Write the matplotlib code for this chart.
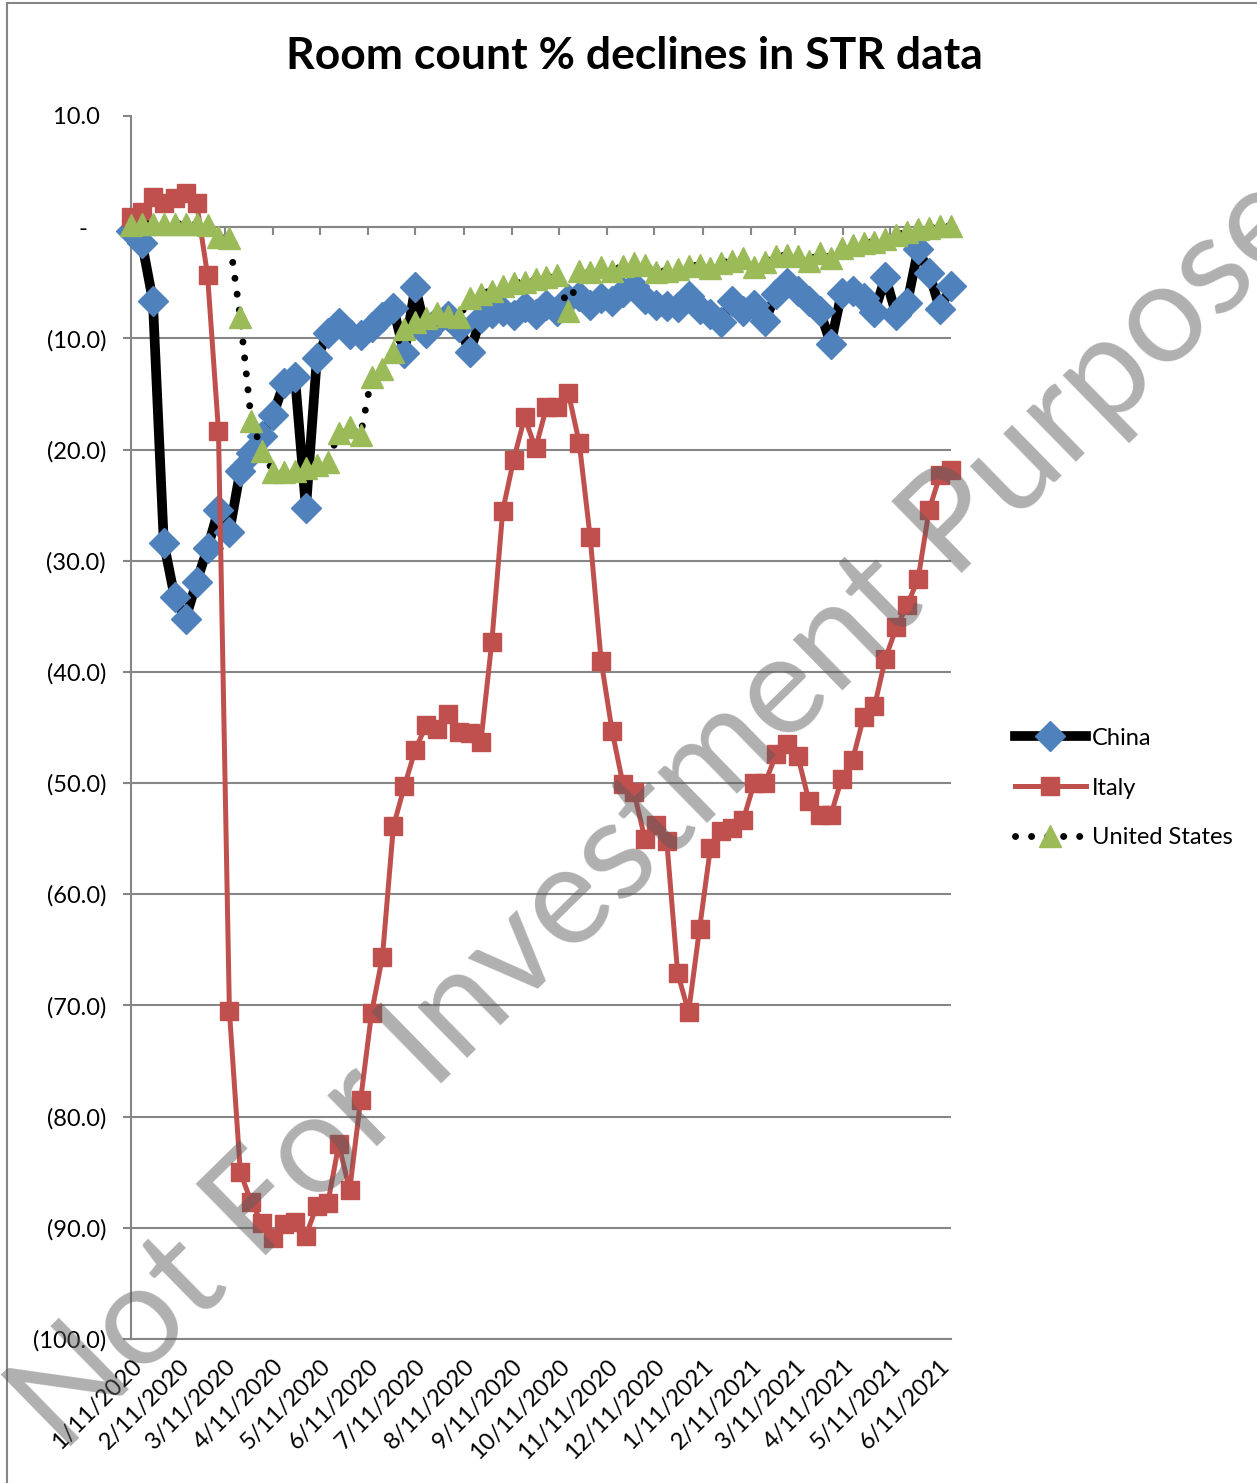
import matplotlib
matplotlib.use("Agg")
import matplotlib.pyplot as plt
import pandas as pd
from matplotlib.patches import Rectangle
from matplotlib.ticker import FuncFormatter

plt.rcParams['font.family'] = ['Lato', 'DejaVu Sans']

# weekly STR data, first week ending 1/11/2020
first_week = "2020-01-11"
n_weeks = 76

china = [-0.3, -1.4, -6.6, -28.4, -33.3, -35.2, -31.9, -28.9, -25.4, -27.4,
         -21.9, -20.3, -18.8, -16.9, -14.0, -13.5, -25.3, -11.8, -9.5, -8.6,
         -9.6, -9.7, -9.0, -8.1, -7.3, -11.3, -5.4, -9.5, -8.4, -8.0,
         -9.0, -11.2, -8.2, -7.7, -7.5, -7.9, -7.2, -7.8, -7.0, -7.5,
         -6.5, -6.2, -7.0, -6.4, -6.6, -5.8, -5.3, -6.5, -7.0, -7.1,
         -7.2, -6.2, -7.4, -7.8, -8.5, -6.6, -7.5, -7.0, -8.4, -6.0,
         -5.0, -5.7, -6.6, -7.5, -10.5, -5.9, -5.7, -6.4, -7.6, -4.5,
         -7.9, -6.8, -2.0, -4.1, -7.4, -5.3]

italy = [0.9, 1.4, 2.7, 2.2, 2.6, 3.1, 2.2, -4.3, -18.3, -70.5,
         -85.0, -87.7, -89.6, -90.9, -89.7, -89.5, -90.7, -88.0, -87.8, -82.5,
         -86.6, -78.5, -70.7, -65.6, -53.9, -50.3, -47.0, -44.8, -45.1, -43.8,
         -45.4, -45.5, -46.3, -37.3, -25.5, -20.9, -17.1, -19.9, -16.2, -16.2,
         -14.9, -19.4, -27.9, -39.0, -45.3, -50.1, -50.8, -55.0, -53.8, -55.2,
         -67.1, -70.6, -63.1, -55.8, -54.3, -54.0, -53.3, -50.0, -50.0, -47.4,
         -46.5, -47.6, -51.6, -52.9, -52.9, -49.6, -47.9, -44.1, -43.1, -38.8,
         -36.0, -34.0, -31.6, -25.4, -22.3, -21.8]

united_states = [0.2, 0.3, 0.3, 0.3, 0.3, 0.3, 0.3, 0.2, -0.9, -1.0,
                 -8.1, -17.4, -20.1, -22.0, -22.0, -21.9, -21.7, -21.4, -21.1, -18.5,
                 -18.0, -18.7, -13.5, -12.8, -11.2, -9.2, -8.5, -8.2, -7.7, -8.0,
                 -8.1, -6.4, -6.0, -5.7, -5.3, -5.0, -4.9, -4.7, -4.5, -4.3,
                 -7.5, -3.9, -4.0, -3.6, -3.9, -3.5, -3.2, -3.4, -4.0, -3.9,
                 -3.8, -3.5, -3.4, -3.7, -3.2, -3.0, -2.8, -3.6, -3.1, -2.6,
                 -2.5, -2.6, -3.0, -2.3, -2.8, -1.9, -1.6, -1.4, -1.3, -1.1,
                 -0.7, -0.4, -0.2, -0.1, 0.1, 0.1]

y_ticks = list(range(-100, 11, 10))
tick_start = "2020-01-11"
tick_end = "2021-06-11"

weeks = pd.date_range(first_week, periods=n_weeks, freq="7D")
month_ticks = pd.date_range(tick_start, tick_end, freq=pd.DateOffset(months=1))

W, H = 1257, 1483
grey = '#868686'

fig = plt.figure(figsize=(W / 100, H / 100), dpi=100)
ax = fig.add_axes([131 / W, 1 - 1339 / H, (951 - 131) / W, (1339 - 116) / H])

# horizontal axis line sits at zero; do this first, it resets the ticks
ax.spines['top'].set_position(('data', 0))
for side in ['top', 'bottom', 'left']:
    ax.spines[side].set_color(grey)
    ax.spines[side].set_linewidth(1.5)
ax.spines['right'].set_visible(False)

ax.plot(weeks, china, color='black', lw=7, marker='D', ms=15,
        mfc='#4F81BD', mec='#4F81BD', label='China', zorder=3, clip_on=False)
ax.plot(weeks, italy, color='#C0504D', lw=3.6, marker='s', ms=13.5,
        mfc='#C0504D', mec='#C0504D', label='Italy', zorder=4, clip_on=False)
ax.plot(weeks, united_states, color='black', lw=5, linestyle=(0, (0.01, 2.3)),
        dash_capstyle='round', marker='^', ms=16,
        mfc='#9BBB59', mec='#9BBB59', label='United States', zorder=5, clip_on=False)

ax.set_xlim(weeks[0], weeks[-1])
ax.set_ylim(-100, 10)


def y_fmt(v, pos):
    if v > 0:
        return f"{v:.1f} "
    if v == 0:
        return "-   "
    return f"({-v:.1f})"


ax.set_yticks(y_ticks)
ax.yaxis.set_major_formatter(FuncFormatter(y_fmt))
ax.tick_params(axis='y', direction='out', length=6, width=1.5, color=grey,
               pad=12, labelsize=17)
ax.yaxis.grid(True, color=grey, lw=1.5)
ax.get_ygridlines()[-1].set_visible(False)
ax.set_axisbelow(True)

ax.tick_params(axis='x', top=True, bottom=False, labeltop=False, labelbottom=True,
               direction='in', length=6, width=1.5, color=grey, pad=12, labelsize=17)
ax.set_xticks(month_ticks)
ax.set_xticklabels([f"{d.month}/{d.day}/{d.year}" for d in month_ticks])
plt.setp(ax.get_xticklabels(), rotation=45, ha='right', va='top', rotation_mode='anchor')

fig.text(0.505, 0.962, "Room count % declines in STR data", ha='center', va='center',
         fontsize=32, fontweight='bold')

fig.legend(loc='center left', bbox_to_anchor=(1015 / W, 1 - 788 / H), frameon=False,
           fontsize=17, handlelength=3.0, handletextpad=0.25, labelspacing=1.22,
           borderaxespad=0, borderpad=0, numpoints=1)

# watermark
fig.text(0.526, 0.452, "Not For Investment Purpose", rotation=44.4, rotation_mode='anchor',
         ha='center', va='center', fontsize=101, color='#5a5a5a', alpha=0.48, zorder=10)

fig.patches.append(Rectangle((7 / W, -0.05), 1.1, 1 - 3 / H + 0.05, transform=fig.transFigure,
                             fill=False, edgecolor=grey, lw=1.5))

fig.savefig("out.png", dpi=100)
